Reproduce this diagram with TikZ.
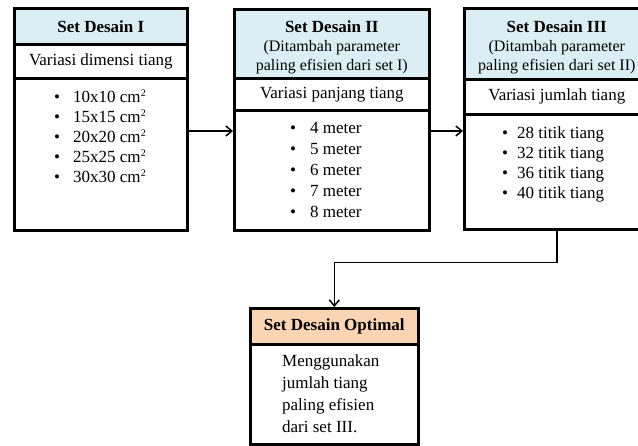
\documentclass[tikz,border=0pt]{standalone}
\usepackage{fontspec}
\setmainfont{Liberation Serif}
\usetikzlibrary{arrows.meta,calc}
\definecolor{hdrblue}{RGB}{218,238,243}
\definecolor{hdrpeach}{RGB}{251,212,180}
\newcommand{\sqcm}{cm\kern0.3pt\raisebox{6pt}{\fontsize{10}{10}\selectfont 2}}
\begin{document}
\begin{tikzpicture}[x=1pt,y=-1pt,
  cell/.style={draw=black, line width=2.6pt, inner sep=0pt, anchor=north west,
    align=center, font=\fontsize{17}{20}\selectfont},
  bluehdr/.style={cell, fill=hdrblue},
  peachhdr/.style={cell, fill=hdrpeach},
  hdrtxt/.style={inner sep=0pt, align=center, font=\fontsize{16}{19}\selectfont},
  itemtxt/.style={inner sep=0pt, anchor=base west, font=\fontsize{17}{20}\selectfont},
  conn/.style={line width=1.5pt, -{Straight Barb[length=6pt,width=10pt,line width=1.5pt]}}
]
\useasboundingbox (0,0) rectangle (638,445);

% ---- Set Desain I ----
\node[bluehdr, minimum width=173pt, minimum height=36pt] (h1) at (13,7)
  {\fontsize{17}{19}\selectfont\textbf{Set Desain I}};
\node[cell, minimum width=173pt, minimum height=34pt] (v1) at (13,43) {Variasi dimensi tiang};
\node[cell, minimum width=173pt, minimum height=152pt] (l1) at (13,77) {};
\foreach \t [count=\i] in {10x10,15x15,20x20,25x25,30x30}
  \node[itemtxt] (a\i) at (54,{102+20*(\i-1)}) {\textbullet\hspace{13pt}\t{} \sqcm};

% ---- Set Desain II ----
\node[bluehdr, minimum width=195pt, minimum height=69pt] (h2) at (233,8) {};
\node[hdrtxt] (h2t) at ($(h2.center)+(0,3.5)$)
  {\textbf{\fontsize{17}{19}\selectfont Set Desain II}\\(Ditambah parameter\\paling efisien dari set I)};
\node[cell, minimum width=195pt, minimum height=32pt] (v2) at (233,77) {Variasi panjang tiang};
\node[cell, minimum width=195pt, minimum height=120pt] (l2) at (233,109) {};
\foreach \t [count=\i] in {4,5,6,7,8}
  \node[itemtxt] (b\i) at (290,{133+21*(\i-1)}) {\textbullet\hspace{14pt}\t{} meter};

% ---- Set Desain III ----
\node[bluehdr, minimum width=185pt, minimum height=71pt] (h3) at (463,7) {};
\node[hdrtxt] (h3t) at ($(h3.center)+(0,3.5)$)
  {\textbf{\fontsize{17}{19}\selectfont Set Desain III}\\(Ditambah parameter\\paling efisien dari set II)};
\node[cell, minimum width=185pt, minimum height=35pt] (v3) at (463,78) {Variasi jumlah tiang};
\node[cell, minimum width=185pt, minimum height=115pt] (l3) at (463,113) {};
\foreach \t [count=\i] in {28,32,36,40}
  \node[itemtxt] (c\i) at (502,{138+20*(\i-1)}) {\textbullet\hspace{9pt}\t{} titik tiang};

% ---- Set Desain Optimal ----
\node[peachhdr, minimum width=168pt, minimum height=36pt] (h4) at (249,307)
  {\textbf{Set Desain Optimal}};
\node[cell, minimum width=168pt, minimum height=100pt] (l4) at (249,343) {};
\foreach \t [count=\i] in {Menggunakan,jumlah tiang,paling efisien,dari set III.}
  \node[itemtxt] (d\i) at (282,{366+22.3*(\i-1)}) {\t};

% ---- connectors ----
\coordinate (arrowrow) at (0,131);
\draw[conn] (l1.east |- arrowrow) -- (l2.west |- arrowrow);
\draw[conn] (l2.east |- arrowrow) -- (l3.west |- arrowrow);
\draw[conn] (l3.south) -- ++(0,32) -| (h4.north);
\end{tikzpicture}
\end{document}
